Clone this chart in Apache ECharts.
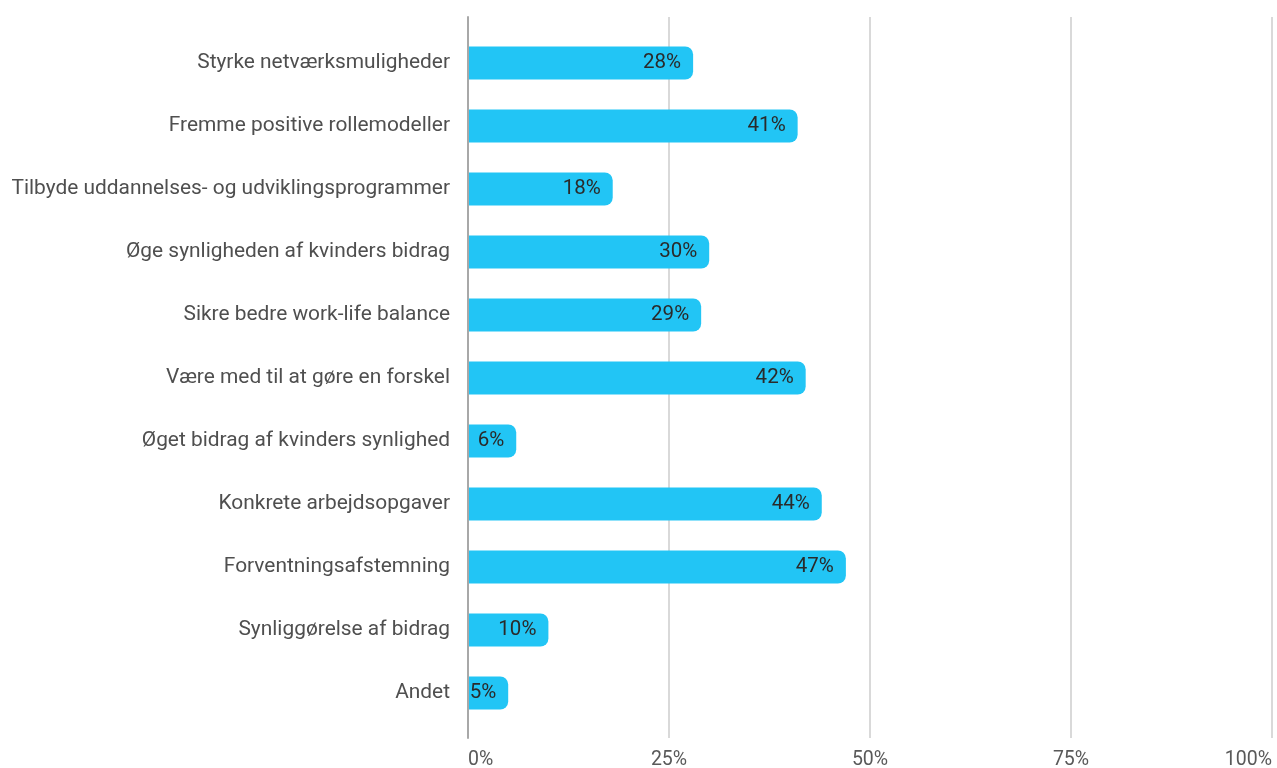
<!DOCTYPE html>
<html>
<head>
<meta charset="utf-8">
<title>Bar chart</title>
<script src="https://cdn.jsdelivr.net/npm/echarts@6/dist/echarts.min.js"></script>
<style>
  html, body { margin: 0; padding: 0; background: #ffffff; overflow: hidden; }
  #chart { width: 1277px; height: 768px; }
</style>
</head>
<body>
<div id="chart"></div>
<script>
// Response categories, top to bottom
const categories = [
  'Styrke netværksmuligheder',
  'Fremme positive rollemodeller',
  'Tilbyde uddannelses- og udviklingsprogrammer',
  'Øge synligheden af kvinders bidrag',
  'Sikre bedre work-life balance',
  'Være med til at gøre en forskel',
  'Øget bidrag af kvinders synlighed',
  'Konkrete arbejdsopgaver',
  'Forventningsafstemning',
  'Synliggørelse af bidrag',
  'Andet'
];

// Share of respondents, percent
const values = [28, 41, 18, 30, 29, 42, 6, 44, 47, 10, 5];

// Percentage axis ticks
const tickValues = [0, 25, 50, 75, 100];

const FONT = 'Roboto, "Noto Sans", sans-serif';

const chart = echarts.init(document.getElementById('chart'), null, { renderer: 'canvas', width: 1277, height: 768 });

chart.setOption({
  animation: false,
  backgroundColor: '#ffffff',
  grid: [
    // bars
    { left: 468, right: 5, top: 31.5, height: 693, containLabel: false, outerBoundsMode: 'none' },
    // gridlines and tick labels
    { left: 468, right: 5, top: 17, height: 721, containLabel: false, outerBoundsMode: 'none' }
  ],
  xAxis: [
    {
      gridIndex: 0, type: 'value', min: 0, max: 100, show: false
    },
    {
      gridIndex: 1, type: 'value', min: tickValues[0], max: tickValues[tickValues.length - 1],
      interval: 25,
      axisLine: { show: false },
      axisTick: { show: false },
      axisLabel: {
        margin: 12,
        alignMinLabel: 'left',
        alignMaxLabel: 'right',
        fontFamily: FONT, fontSize: 19.5, color: '#595959',
        formatter: v => v + '%'
      },
      splitLine: { show: true, lineStyle: { color: '#cccccc', width: 1.5 } },
      z: 0
    }
  ],
  yAxis: [
    {
      gridIndex: 0, type: 'category', data: categories, inverse: true,
      axisLine: { show: false },
      axisTick: { show: false },
      axisLabel: {
        margin: 18,
        padding: [4, 0, 0, 0],
        fontFamily: FONT, fontSize: 20.9, color: '#4f4f4f'
      },
      splitLine: { show: false }
    },
    {
      gridIndex: 1, type: 'value', min: 0, max: 1,
      axisLine: { show: true, onZero: false, lineStyle: { color: '#a8a8a8', width: 2 } },
      axisTick: { show: false },
      axisLabel: { show: false },
      splitLine: { show: false },
      z: 10
    }
  ],
  series: [
    {
      type: 'bar',
      xAxisIndex: 0, yAxisIndex: 0,
      data: values,
      barWidth: 33,
      itemStyle: { color: '#22c5f5', borderRadius: [0, 8, 8, 0] },
      label: {
        show: true,
        position: 'insideRight',
        distance: 12,
        padding: [4, 0, 0, 0],
        fontFamily: FONT, fontSize: 20.5, color: '#2a2a2a',
        formatter: p => p.value + '%'
      },
      z: 2
    }
  ]
});
</script>
</body>
</html>
